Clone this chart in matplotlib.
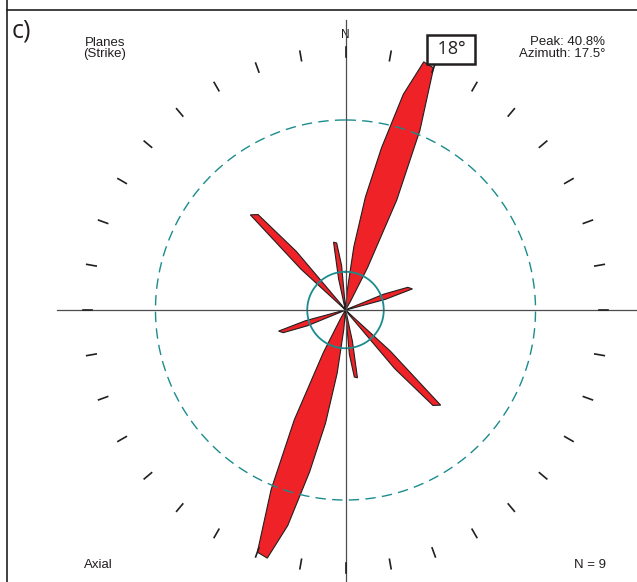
import numpy as np
import matplotlib.pyplot as plt

# Rose of plane strikes (axial): percent per 2.5 deg sample over 0-180,
# the other half is the same rose turned by 180 deg
bin_azimuth = [5, 7.5, 10, 12.5, 15, 17.5, 20, 22.5, 25, 27.5, 30,
               65, 67.5, 70, 72.5, 75, 77.5,
               132.5, 135, 137.5, 140, 142.5,
               165, 167.5, 170, 172.5, 175, 177.5]
bin_percent = [3, 10, 18, 26, 35, 40.8, 40.4, 30.5, 19, 7.5, 1.5,
               0.5, 6.5, 10.4, 11.0, 6.5, 0.5,
               9.5, 21.1, 20.3, 12, 1,
               0.5, 5, 10.8, 10.6, 7, 0.5]
peak_percent = 40.8
peak_azimuth = 17.5
n_planes = 9
inner_circle = 6.0
dashed_circle = 29.8

STEP = 2.5
grid = np.arange(0, 180, STEP)
half = np.zeros(grid.size)
for a, p in zip(bin_azimuth, bin_percent):
    half[int(round(a / STEP))] = p
theta = np.radians(np.concatenate([grid, grid + 180]))
radius = np.concatenate([half, half])

RED = '#ee2227'
TEAL = '#1b8c8e'
INK = '#231f20'
SANS = ['Liberation Sans', 'DejaVu Sans']

W, H = 637, 582
fig = plt.figure(figsize=(W / 100, H / 100), dpi=100)

# pixel-space layer for the frame and labels
base = fig.add_axes([0, 0, 1, 1])
base.set_xlim(0, W)
base.set_ylim(H, 0)
base.axis('off')

# polar layer for the rose, centre at (cx, cy) px
cx, cy = 345.5, 310
scale = 6.377          # px per percent
rmax = 45
R = rmax * scale
ax = fig.add_axes([(cx - R) / W, (H - cy - R) / H, 2 * R / W, 2 * R / H],
                  projection='polar')
ax.set_theta_zero_location('N')
ax.set_theta_direction(-1)
ax.set_ylim(0, rmax)
ax.axis('off')
ax.patch.set_alpha(0)

ax.fill(theta, radius, facecolor=RED, edgecolor=INK, lw=0.8, zorder=2)

ring = np.linspace(0, 2 * np.pi, 721)
ax.plot(ring, np.full_like(ring, inner_circle), color=TEAL, lw=1.3, zorder=3)
ax.plot(ring, np.full_like(ring, dashed_circle), color=TEAL, lw=1.0,
        ls=(0, (7.5, 4.5)), zorder=3)

# cross lines through the centre
for ang, length in [(0, 45.5), (90, 45.7), (180, 43), (270, 45.2)]:
    ax.plot([np.radians(ang)] * 2, [0, length], color='#4d4d4d', lw=0.9,
            zorder=4, clip_on=False)

# 10 deg ticks on the outer ring
for ang in np.arange(0, 360, 10):
    ax.plot([np.radians(ang)] * 2, [39.7, 41.2], color=INK, lw=1.2,
            zorder=4, clip_on=False)

ax.annotate(' %d° ' % round(peak_azimuth), xy=(np.radians(peak_azimuth), peak_percent),
            xytext=(27.5, 12.5), textcoords='offset pixels', ha='center', va='center',
            fontsize=13, family=['Open Sans', 'DejaVu Sans'], color=INK, zorder=6,
            bbox=dict(boxstyle='square,pad=0.29', fc='white', ec=INK, lw=1.8))

# frame of the panel
base.plot([7, 7], [0, H], color=INK, lw=1.2)
base.plot([7, W], [9.5, 9.5], color=INK, lw=1.2)

base.text(11.5, 37.5, 'c)', fontsize=18, family=['Open Sans', 'DejaVu Sans'],
          color=INK, ha='left', va='baseline')
base.text(345.5, 35, 'N', fontsize=8.5, family=SANS, color=INK,
          ha='center', va='center', zorder=5)
base.text(105, 48.5, 'Planes\n(Strike)', fontsize=9.5, family=SANS, color=INK,
          ha='center', va='center', multialignment='center', linespacing=0.95)
base.text(605.5, 48, 'Peak: %.1f%%\nAzimuth: %.1f°' % (peak_percent, peak_azimuth),
          fontsize=9.5, family=SANS, color=INK, ha='right', va='center',
          multialignment='right', linespacing=0.95)
base.text(98, 568, 'Axial', fontsize=9.5, family=SANS, color=INK,
          ha='center', va='baseline')
base.text(605.5, 568, 'N = %d' % n_planes, fontsize=9.5, family=SANS, color=INK,
          ha='right', va='baseline')

fig.savefig('out.png', dpi=100)
